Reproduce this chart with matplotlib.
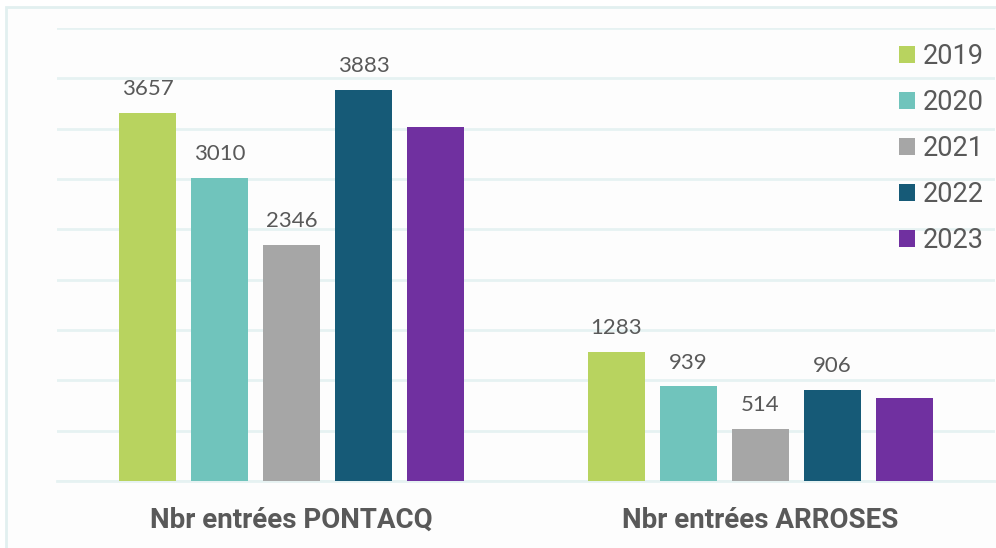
import matplotlib
matplotlib.use("Agg")
import matplotlib.pyplot as plt
from matplotlib.patches import Rectangle
import numpy as np

categories = ["Nbr entrées PONTACQ", "Nbr entrées ARROSES"]
years = ["2019", "2020", "2021", "2022", "2023"]
values = {
    "2019": [3657, 1283],
    "2020": [3010, 939],
    "2021": [2346, 514],
    "2022": [3883, 906],
    "2023": [3515, 820],
}
show_labels = {"2019": True, "2020": True, "2021": True, "2022": True, "2023": False}
colors = ["#b8d35f", "#70c4bc", "#a6a6a6", "#165a77", "#7030a0"]

W, H = 996, 548
fig = plt.figure(figsize=(W / 100, H / 100), dpi=100)
fig.patch.set_facecolor("white")

# outer frame
fig.patches.append(Rectangle((6 / W, -0.1), 1.2, (H - 7) / H + 0.1, transform=fig.transFigure,
                             facecolor="#fdfdfd", edgecolor="#e2f0f0", linewidth=2, zorder=-5))

ax = fig.add_axes([57 / W, 1 - 481 / H, (995 - 57) / W, (481 - 28) / H])
ax.set_facecolor("none")
ax.set_zorder(1)

x = np.arange(len(categories))
step = 72 / 469
width = 57 / 469
for i, (yr, c) in enumerate(zip(years, colors)):
    xs = x + (i - 2) * step
    bars = ax.bar(xs, values[yr], width=width, color=c, label=yr, zorder=3)
    if show_labels[yr]:
        for xi, v in zip(xs, values[yr]):
            ax.annotate(f"{v}", (xi, v), xytext=(0, 10), textcoords="offset points",
                        ha="center", va="bottom", fontsize=16, color="#595959",
                        family="Lato")

ax.set_xlim(-0.5, 1.5)
ax.set_ylim(0, 4500)
ax.set_yticks(np.arange(0, 4501, 500))
ax.yaxis.grid(True, color="#e6f2f2", linewidth=2)
ax.set_axisbelow(True)
ax.tick_params(axis="y", left=False, labelleft=False)
ax.tick_params(axis="x", bottom=False, pad=15)
ax.set_xticks(x)
ax.set_xticklabels(categories, fontsize=20, fontweight="bold", color="#595959", family="Roboto")
for s in ["top", "right", "left"]:
    ax.spines[s].set_visible(False)
ax.spines["bottom"].set_color("#e6f2f2")
ax.spines["bottom"].set_linewidth(2)

leg = ax.legend(loc="upper right", bbox_to_anchor=(1.0, 0.99), frameon=False,
                prop={"family": "Roboto", "size": 19.5}, labelcolor="#595959",
                handlelength=0.6, handleheight=0.6, handletextpad=0.3, labelspacing=0.7,
                borderaxespad=0)

fig.savefig("out.png", dpi=100)
